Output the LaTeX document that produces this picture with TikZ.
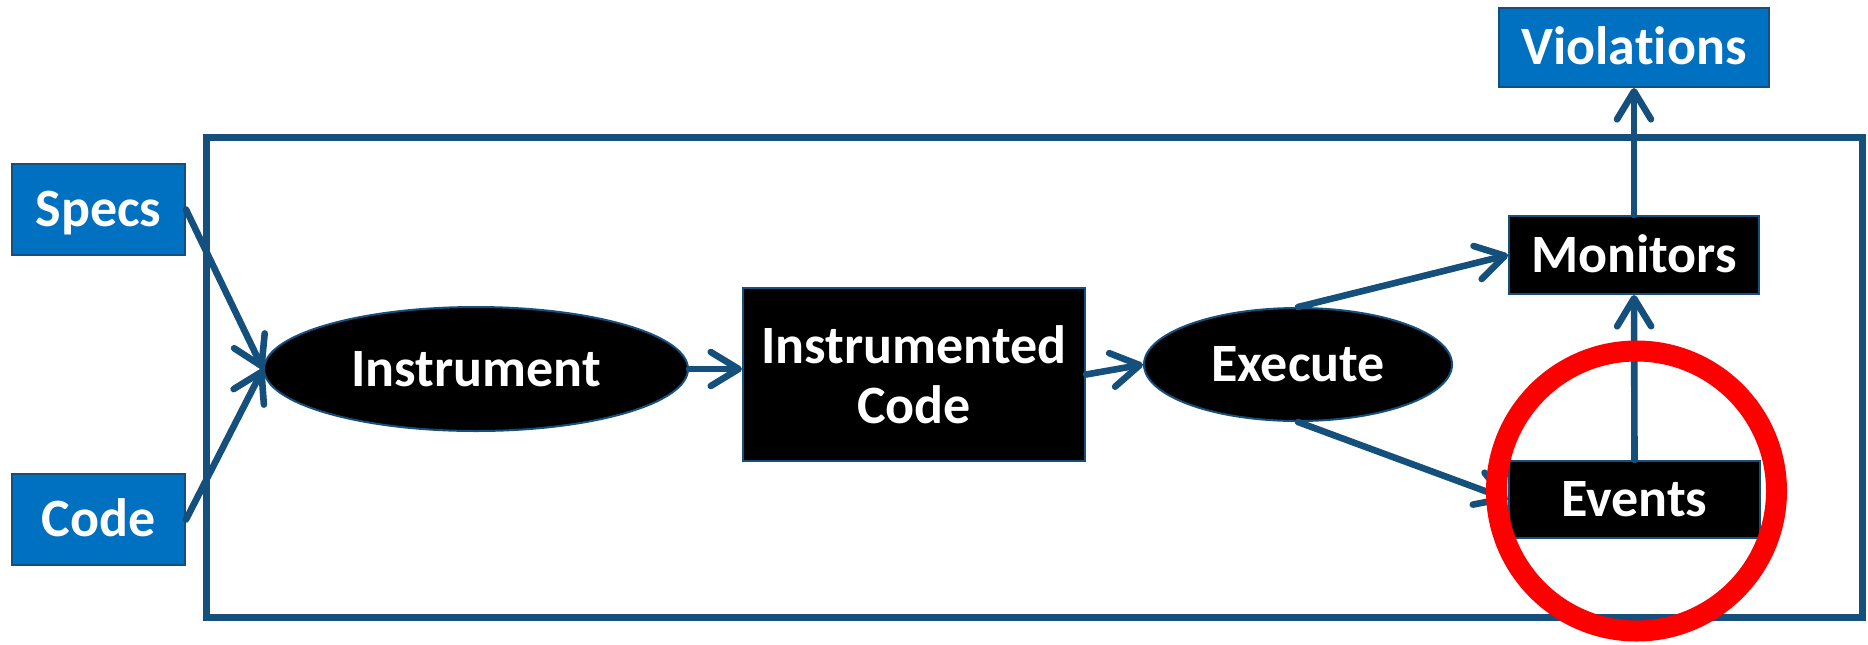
\documentclass[tikz,border=0pt]{standalone}
\usepackage{fontspec}
\setmainfont{Carlito}[Ligatures=NoCommon]
\usetikzlibrary{arrows.meta}
\usetikzlibrary{shapes.geometric}
\definecolor{flowline}{HTML}{15507C}
\definecolor{inputblue}{HTML}{0070C0}
\tikzset{
    labelfont/.style={font=\fontsize{27}{30}\selectfont\bfseries,text=white},
    oneline/.style={text height=17.4pt,text depth=0pt},
    iobox/.style={draw=flowline,line width=1pt,fill=inputblue,labelfont,oneline,inner sep=0pt},
    stepbox/.style={draw=flowline,line width=1pt,fill=black,labelfont,inner sep=0pt,align=center},
    stepoval/.style={ellipse,draw=flowline,line width=1pt,fill=black,labelfont,oneline,inner sep=0pt},
    flow/.style={draw=flowline,line width=3.3pt,line cap=round,-{Straight Barb[length=14pt,width=17pt,round]}}
}
\begin{document}
\begin{tikzpicture}[x=0.5pt,y=-0.5pt]
                    \useasboundingbox (0,0) rectangle (1868,644);
                    \draw[flowline,line width=3.5pt] (206,137) rectangle (1862,617);

                    \node[iobox,minimum width=86.5pt,minimum height=45.5pt] (specs) at (98.5,209.5) {Specs};
                    \node[iobox,minimum width=86.5pt,minimum height=45.5pt] (code) at (98.5,519.5) {Code};
                    \node[iobox,minimum width=135pt,minimum height=39.5pt] (violations) at (1634,47.5) {Violations};

                    \node[stepoval,minimum width=212pt,minimum height=62pt] (instrument) at (476,369) {Instrument};
                    \node[stepbox,minimum width=171pt,minimum height=86.5pt] (icode) at (914,374.5) {Instrumented\\Code};
                    \node[stepoval,minimum width=154pt,minimum height=56.5pt] (execute) at (1298,364.5) {Execute};
                    \node[stepbox,oneline,minimum width=125pt,minimum height=39pt] (monitors) at (1634,255) {Monitors};
                    \node[stepbox,oneline,minimum width=125.5pt,minimum height=38.5pt] (events) at (1634.5,499.5) {Events};

                    \draw[flow] (specs.east) -- (instrument.west);
                    \draw[flow] (code.east) -- (instrument.west);
                    \draw[flow] (instrument.east) -- (instrument.east -| icode.west);
                    \draw[flow] (icode.east) -- (execute.west);
                    \draw[flow] (execute.north) -- (monitors.west);
                    \draw[flow] (execute.south) -- (events.west);
                    \draw[flow] (events.north) -- (monitors.south);
                    \draw[flow] (monitors.north) -- (violations.south);

                    \draw[red,line width=10.5pt] (1636.5,491) circle (140);
                \end{tikzpicture}
\end{document}
